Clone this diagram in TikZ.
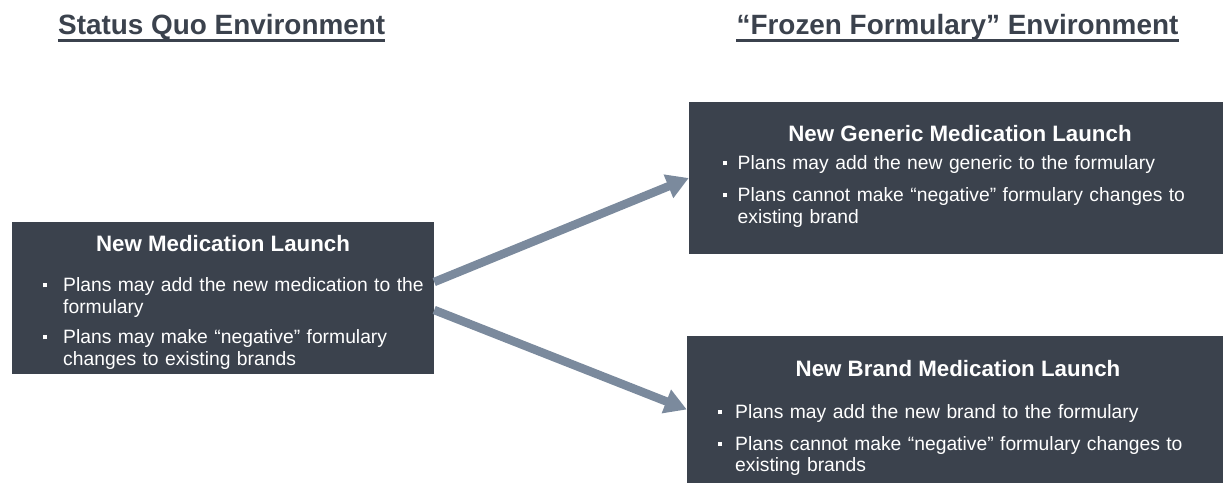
\documentclass[tikz,border=0pt]{standalone}
\usepackage{fontspec}
\setmainfont{Liberation Sans}
\usetikzlibrary{arrows.meta,positioning}
\definecolor{slatebox}{HTML}{3B424D}
\definecolor{slatearrow}{HTML}{7B8A9D}
% square bullet item, first line top fixed at 15pt above the baseline
\newcommand{\bitem}[2][17pt]{\par\noindent\makebox[#1][l]{\raisebox{4.3pt}{\rule{4pt}{4pt}}}\parbox[t]{500pt}{\rule{0pt}{15pt}#2}\par}
\newcommand{\bgap}{\vspace{10.5pt}}

\begin{document}
\begin{tikzpicture}[x=1pt,y=1pt,
    box/.style={fill=slatebox, draw=none, inner sep=0pt},
    boxtitle/.style={anchor=base, text=white, inner sep=0pt, font=\bfseries\fontsize{22.3}{25}\selectfont},
    boxlist/.style={anchor=north west, text=white, text width=540pt, align=left, inner sep=0pt, font=\fontsize{19.3}{21.5}\selectfont},
    header/.style={anchor=base, text=slatebox, inner sep=0pt, font=\bfseries\fontsize{27.9}{31}\selectfont},
    hdrline/.style={draw=slatebox, line width=2.5pt},
    flow/.style={draw=slatearrow, line width=8.5pt, -{Triangle[length=22pt,width=24pt]}}]
        \useasboundingbox (0,0) rectangle (1223,483);
        % headers
        \node[header] (sqhdr) at (221.7,448) {Status Quo Environment};
        \node[header] (ffhdr) at (957.5,448) {“Frozen Formulary” Environment};
        \draw[hdrline] ([yshift=-5.5pt]sqhdr.base west) -- ([yshift=-5.5pt]sqhdr.base east);
        \draw[hdrline] ([yshift=-5.5pt]ffhdr.base west) -- ([yshift=-5.5pt]ffhdr.base east);
        % boxes
        \node[box, minimum width=422pt, minimum height=152pt] (lm) at (223,185) {};
        \node[box, minimum width=534pt, minimum height=152pt] (gm) at (956,305) {};
        \node[box, minimum width=536pt, minimum height=147pt] (bm) at (955,73.5) {};
        % box texts
        \node[boxtitle] (lmtitle) at (223,232) {New Medication Launch};
        \node[boxlist] (lmlist) at (43,213) {%
            \bitem[20pt]{Plans may add the new medication to the\\formulary}\bgap
            \bitem[20pt]{Plans may make “negative” formulary\\changes to existing brands}};
        \node[boxtitle] (gmtitle) at (960,341.3) {New Generic Medication Launch};
        \node[boxlist] (gmlist) at (723,335) {%
            \bitem[14.5pt]{Plans may add the new generic to the formulary}\bgap
            \bitem[14.5pt]{Plans cannot make “negative” formulary changes to\\existing brand}};
        \node[boxtitle] (bmtitle) at (958,106.3) {New Brand Medication Launch};
        \node[boxlist] (bmlist) at (718,86.3) {%
            \bitem{Plans may add the new brand to the formulary}\bgap
            \bitem{Plans cannot make “negative” formulary changes to\\existing brands}};
        % arrows
        \draw[flow] ([yshift=16pt]lm.east) -- (gm.west);
        \draw[flow] ([yshift=-12pt]lm.east) -- (bm.west);
    \end{tikzpicture}
\end{document}
